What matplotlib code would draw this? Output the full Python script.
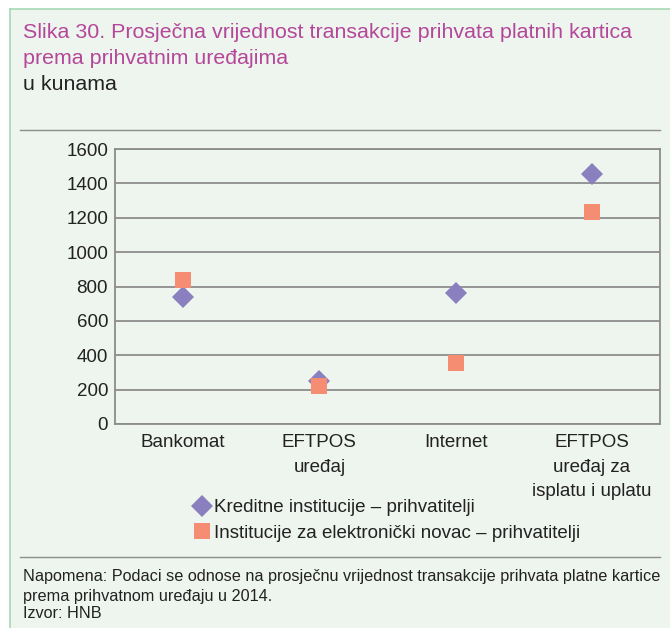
import matplotlib
matplotlib.use("Agg")
import matplotlib.pyplot as plt
from matplotlib.patches import Rectangle
from matplotlib.lines import Line2D

plt.rcParams['font.family'] = ['Liberation Sans', 'DejaVu Sans']

# average transaction value per acceptance device, kuna (2014)
categories = ["Bankomat", "EFTPOS\nuređaj", "Internet", "EFTPOS\nuređaj za\nisplatu i uplatu"]
kreditne = [740, 250, 760, 1455]
e_novac = [835, 220, 355, 1235]
series_names = ["Kreditne institucije – prihvatitelji",
                "Institucije za elektronički novac – prihvatitelji"]
y_ticks = [0, 200, 400, 600, 800, 1000, 1200, 1400, 1600]

bg = "#EEF4EE"
purple = "#8A80BF"
salmon = "#F58D73"
magenta = "#B4479A"
grid_col = "#8C8C8C"
txt = "#222222"

fig = plt.figure(figsize=(6.7, 6.28), dpi=100)
fig.patch.set_facecolor("white")

# panel background with green frame on top and left
fig.patches.append(Rectangle((10 / 670, 0), 1, 1 - 9 / 628, transform=fig.transFigure,
                             facecolor=bg, edgecolor="none", zorder=-2))
fig.add_artist(Line2D([10 / 670, 1], [1 - 9 / 628, 1 - 9 / 628], color="#A8D8B5", lw=1.2))
fig.add_artist(Line2D([10 / 670, 10 / 670], [0, 1 - 9 / 628], color="#A8D8B5", lw=1.2))

# separator rules
fig.add_artist(Line2D([20 / 670, 660 / 670], [1 - 130 / 628] * 2, color="#8E8E8E", lw=1))
fig.add_artist(Line2D([20 / 670, 660 / 670], [1 - 557 / 628] * 2, color="#8E8E8E", lw=1))

fig.text(23 / 670, 1 - 33 / 628, "Slika 30. Prosječna vrijednost transakcije prihvata platnih kartica",
         color=magenta, fontsize=15.4, va="center", ha="left")
fig.text(23 / 670, 1 - 59 / 628, "prema prihvatnim uređajima",
         color=magenta, fontsize=15.4, va="center", ha="left")
fig.text(23 / 670, 1 - 84 / 628, "u kunama", color=txt, fontsize=15.4, va="center", ha="left")

ax = fig.add_axes([115 / 670, 1 - 424 / 628, 545 / 670, 275 / 628])
ax.set_facecolor(bg)
x = list(range(len(categories)))
ax.set_xlim(-0.5, len(categories) - 0.5)
ax.set_ylim(0, 1600)
ax.set_yticks(y_ticks)
ax.yaxis.grid(True, color=grid_col, lw=1.3)
ax.set_axisbelow(True)
for s in ax.spines.values():
    s.set_color(grid_col)
    s.set_linewidth(1.3)

ax.plot(x, kreditne, ls="none", marker="D", ms=10.8, mew=0, color=purple, zorder=3,
        label=series_names[0])
ax.plot(x, e_novac, ls="none", marker="s", ms=11.5, mew=0, color=salmon, zorder=4,
        label=series_names[1])

ax.set_xticks(x)
ax.set_xticklabels(categories, fontsize=13.5, color=txt, linespacing=1.6)
ax.tick_params(axis="x", length=0, pad=7)
ax.tick_params(axis="y", length=0, pad=5, labelsize=13.5, labelcolor=txt)

leg = fig.legend(loc="upper left", bbox_to_anchor=(191 / 670, 1 - 499 / 628), frameon=False,
                 fontsize=13.5, handletextpad=0.0, handlelength=1.2, labelspacing=0.45,
                 borderpad=0, borderaxespad=0)
for t in leg.get_texts():
    t.set_color(txt)

fig.text(23 / 670, 1 - 577 / 628,
         "Napomena: Podaci se odnose na prosječnu vrijednost transakcije prihvata platne kartice",
         fontsize=11.7, va="center", ha="left", color=txt)
fig.text(23 / 670, 1 - 596 / 628, "prema prihvatnom uređaju u 2014.",
         fontsize=11.7, va="center", ha="left", color=txt)
fig.text(23 / 670, 1 - 614 / 628, "Izvor: HNB",
         fontsize=11.7, va="center", ha="left", color=txt)

fig.savefig("out.png", dpi=100, facecolor=fig.get_facecolor())
